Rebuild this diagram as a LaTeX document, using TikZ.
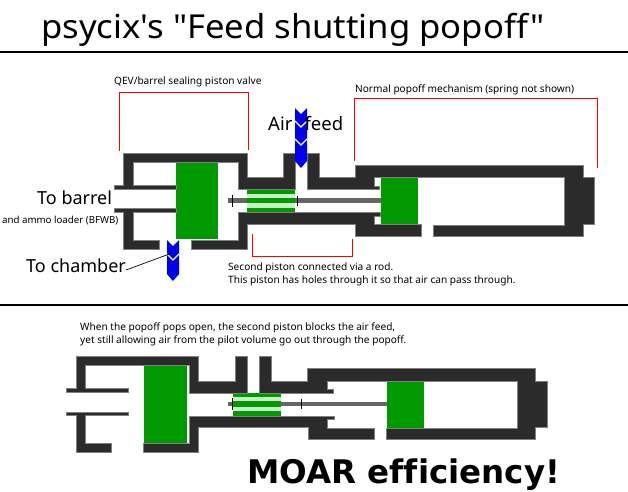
\documentclass[tikz,border=0pt]{standalone}
\usepackage{fontspec}
\setmainfont[Ligatures=NoCommon]{Noto Sans}
\newfontfamily\titlefont[FakeStretch=1.05,Ligatures=NoCommon]{Noto Sans}
\newfontfamily\moarfont[Ligatures=NoCommon]{DejaVu Sans}
\usepackage{tikz}
\usetikzlibrary{positioning}

\definecolor{wallgray}{HTML}{2B2B2B}
\definecolor{pistongreen}{HTML}{009900}
\definecolor{holegreen}{HTML}{C4F2C4}
\definecolor{feedblue}{HTML}{0000EE}

\begin{document}
\begin{tikzpicture}[
  x=1pt, y=-1pt,
  wall/.style={fill=wallgray, draw=gray, line width=0.4pt},
  piston/.style={fill=pistongreen},
  holes/.style={fill=holegreen},
  rod/.style={fill=black!60},
  tick/.style={draw=black, line width=0.9pt},
  bracket/.style={draw=red, line width=0.9pt},
  rulerline/.style={draw=black, line width=1.5pt},
  note/.style={anchor=west, inner sep=0pt, font=\fontsize{10.1}{12}\selectfont},
  biglabel/.style={anchor=west, inner sep=0pt, font=\fontsize{18}{20}\selectfont},
  flow/.pic={
    \fill[feedblue] (-6,0) -- (0,6) -- (6,0) -- (6,#1) -- (0,#1+7) -- (-6,#1) -- cycle;
  },
  flow/.default=20,
  chevron/.style={draw=white, line width=1.3pt},
]
\useasboundingbox (0,0) rectangle (628,491);

% Title and separators
\node[anchor=base west, inner sep=0pt, font=\fontsize{33}{36}\titlefont] (title) at (41,38) {psycix's "Feed shutting popoff"};
\coordinate (ruleAl) at (0,52);
\coordinate (ruleAr) at (628,52);
\coordinate (ruleBl) at (0,305);
\coordinate (ruleBr) at (628,305);
\draw[rulerline] (ruleAl) -- (ruleAr);
\draw[rulerline] (ruleBl) -- (ruleBr);

% Upper drawing: pistons and rod
\fill[rod] (228,198) rectangle (381,203);
\fill[piston] (176,162) rectangle (218,239);
\fill[piston] (381,177) rectangle (418,224);
\fill[piston] (247,189) rectangle (295,212);
\fill[holes] (247,194) rectangle (295,198);
\fill[holes] (247,203) rectangle (295,208);
\draw[tick] (232,195) -- (232,207);
\draw[tick] (297,196) -- (297,206);

% Upper drawing: housing
\filldraw[wall] (114,185) -- (123,185) -- (123,153) -- (247,153) -- (247,177) -- (283,177) -- (283,153) -- (295,153)
  -- (295,189) -- (238,189) -- (238,162) -- (133,162) -- (133,185) -- (176,185) -- (176,189) -- (114,189) -- cycle;
\filldraw[wall] (114,208) -- (176,208) -- (176,212) -- (133,212) -- (133,240) -- (159,240) -- (159,249) -- (123,249)
  -- (123,212) -- (114,212) -- cycle;
\filldraw[wall] (191,240) -- (238,240) -- (238,212) -- (380,212) -- (380,216) -- (374,216) -- (374,224) -- (421,224)
  -- (421,236) -- (355,236) -- (355,224) -- (247,224) -- (247,249) -- (191,249) -- cycle;
\filldraw[wall] (307,153) -- (319,153) -- (319,177) -- (355,177) -- (355,165) -- (583,165) -- (583,177) -- (594,177)
  -- (594,224) -- (583,224) -- (583,236) -- (433,236) -- (433,225) -- (564,225) -- (564,177) -- (374,177) -- (374,186)
  -- (379,186) -- (379,189) -- (307,189) -- cycle;

% Feed arrows
\pic at (301,108) {flow=53};
\draw[chevron] (295,121) -- (301,127) -- (307,121);
\draw[chevron] (295,139) -- (301,145) -- (307,139);
\pic at (173,240) {flow=34};
\draw[chevron] (167,254) -- (173,260) -- (179,254);
\node[biglabel, font=\fontsize{18.5}{22}\selectfont] (airfeed) at (268,124) {Air\hspace{0.4em} feed};

% Upper labels
\node[note] (qevlabel) at (114,82) {QEV/barrel sealing piston valve};
\node[note] (popofflabel) at (355,90) {Normal popoff mechanism (spring not shown)};
\node[note] (rodlabel) at (228,268) {Second piston connected via a rod.};
\node[note, anchor=west] (holelabel) at (228,281) {This piston has holes through it so that air can pass through.};
\node[biglabel] (barrellabel) at (37,198) {To barrel};
\node[note, font=\fontsize{9.7}{12}\selectfont] (loaderlabel) at (2,221) {and ammo loader (BFWB)};
\node[biglabel] (chamberlabel) at (26,266) {To chamber};
\coordinate (chamberend) at (172,253);
\draw[black, line width=0.7pt] (chamberlabel.east) ++(0,4) -- (chamberend);

% Brackets
\draw[bracket] (119,151) -- (119,92) -- (248,92) -- (248,150);
\draw[bracket] (354,161) -- (354,98) -- (597,98) -- (597,168);
\draw[bracket] (252,234) -- (252,256) -- (352,256) -- (352,239);

% Lower drawing: pistons and rod
\node[note] (popnote) at (80,328) {When the popoff pops open, the second piston blocks the air feed,};
\node[note] (pilotnote) at (80,341) {yet still allowing air from the pilot volume go out through the popoff.};
\fill[rod] (228,402) rectangle (387,406);
\fill[piston] (144,365) rectangle (187,443);
\fill[piston] (387,381) rectangle (424,428);
\fill[piston] (233,393) rectangle (281,416);
\fill[holes] (233,397) rectangle (281,401);
\fill[holes] (233,407) rectangle (281,411);
\draw[tick] (232,398) -- (232,410);
\draw[tick] (301,399) -- (301,409);

% Lower drawing: housing
\filldraw[wall] (66,388) -- (76,388) -- (76,356) -- (198,356) -- (198,381) -- (235,381) -- (235,356) -- (247,356)
  -- (247,393) -- (189,393) -- (189,365) -- (85,365) -- (85,388) -- (128,388) -- (128,392) -- (66,392) -- cycle;
\filldraw[wall] (66,412) -- (128,412) -- (128,415) -- (85,415) -- (85,443) -- (111,443) -- (111,452) -- (76,452)
  -- (76,415) -- (66,415) -- cycle;
\filldraw[wall] (143,443) -- (189,443) -- (189,416) -- (334,416) -- (334,419) -- (327,419) -- (327,428) -- (374,428)
  -- (374,439) -- (308,439) -- (308,427) -- (198,427) -- (198,452) -- (143,452) -- cycle;
\filldraw[wall] (259,356) -- (271,356) -- (271,381) -- (307,381) -- (307,368) -- (535,368) -- (535,381) -- (547,381)
  -- (547,427) -- (535,427) -- (535,439) -- (386,439) -- (386,428) -- (517,428) -- (517,381) -- (327,381) -- (327,389)
  -- (333,389) -- (333,393) -- (259,393) -- cycle;

\node[anchor=base west, inner sep=0pt, font=\fontsize{32.5}{36}\moarfont\bfseries] (moar) at (247,483) {MOAR efficiency!};
\end{tikzpicture}
\end{document}
